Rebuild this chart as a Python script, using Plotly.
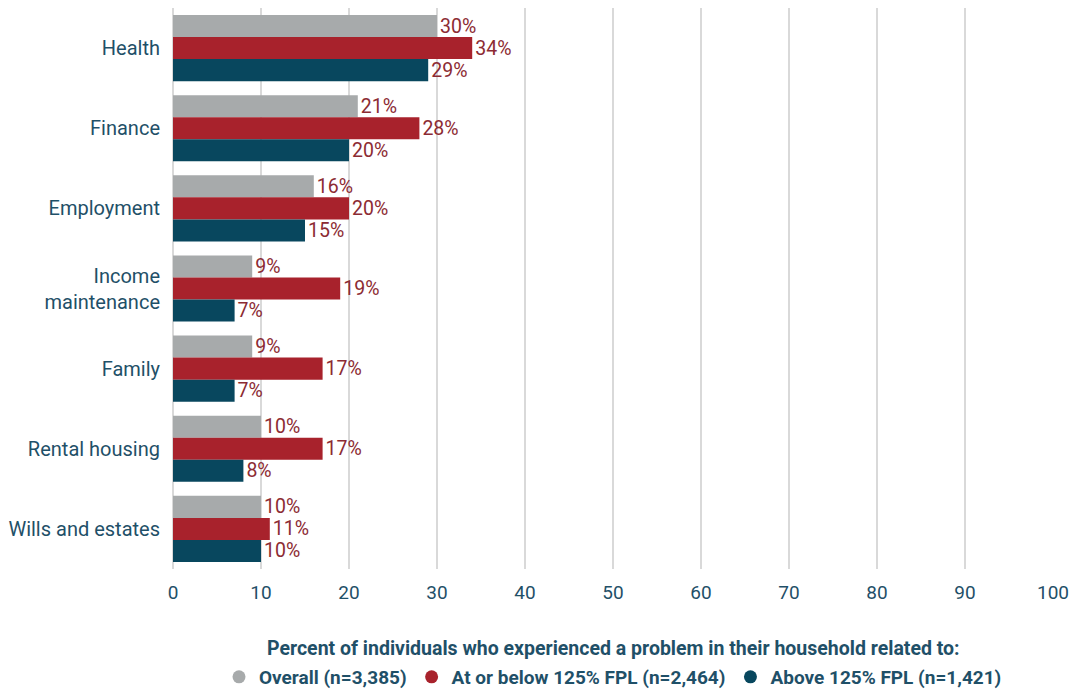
import plotly.graph_objects as go

categories = ["Health", "Finance", "Employment", "Income<br>maintenance",
              "Family", "Rental housing", "Wills and estates"]
overall = [30, 21, 16, 9, 9, 10, 10]
below_125 = [34, 28, 20, 19, 17, 17, 11]
above_125 = [29, 20, 15, 7, 7, 8, 10]

series_names = ["Overall (n=3,385)", "At or below 125% FPL (n=2,464)", "Above 125% FPL (n=1,421)"]
series_colors = ["#A7AAAB", "#A8222C", "#08475E"]
label_color = "#8C2B33"
axis_text_color = "#1F5068"

fig = go.Figure()
for name, vals, color in zip(series_names, [overall, below_125, above_125], series_colors):
    fig.add_trace(go.Bar(
        x=vals, y=categories, orientation="h", name=name, showlegend=False,
        marker=dict(color=color, line=dict(width=0)),
        text=[f"{v}%" for v in vals], textposition="outside", constraintext="none",
        textfont=dict(color=label_color, size=19.5, family="Roboto"),
        cliponaxis=False,
    ))

# round legend swatches
for name, color in zip(series_names, series_colors):
    fig.add_trace(go.Scatter(
        x=[None], y=[None], mode="markers", name=f"<b>{name}</b>",
        marker=dict(symbol="circle", size=13, color=color),
    ))

fig.update_layout(
    barmode="group", bargap=0.175, bargroupgap=0,
    width=1077, height=689,
    margin=dict(l=173, r=24, t=8, b=120, autoexpand=False),
    plot_bgcolor="white", paper_bgcolor="white",
    font=dict(family="Roboto", color=axis_text_color),
    xaxis=dict(range=[0, 100], dtick=10, showgrid=True, gridcolor="#D9D9D9", gridwidth=2,
               zeroline=True, zerolinecolor="#D9D9D9", zerolinewidth=2,
               tickfont=dict(size=19, color=axis_text_color), ticks="outside", ticklen=6,
               tickcolor="rgba(0,0,0,0)"),
    yaxis=dict(autorange="reversed", tickfont=dict(size=20, color=axis_text_color),
               ticks="outside", ticklen=8, tickcolor="rgba(0,0,0,0)", showgrid=False),
    legend=dict(orientation="h", x=0.5, xanchor="center", xref="paper",
                y=1 - 677 / 689, yanchor="middle", yref="container",
                font=dict(size=19, color=axis_text_color, family="Roboto"),
                itemwidth=30, traceorder="normal"),
    annotations=[dict(text="<b>Percent of individuals who experienced a problem in their household related to:</b>",
                      xref="paper", yref="paper", x=0.5, y=-0.141, xanchor="center", yanchor="middle",
                      showarrow=False, font=dict(size=19.5, color=axis_text_color, family="Roboto"))],
)

fig.write_html("out.html")
